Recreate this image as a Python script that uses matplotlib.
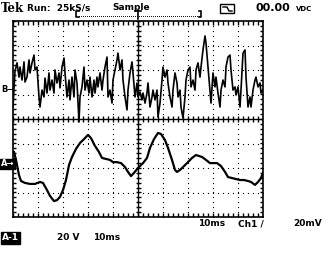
import matplotlib
matplotlib.use("Agg")
import matplotlib.pyplot as plt
from matplotlib.patches import Rectangle
import numpy as np

# screen: 10 divisions x 10 ms, 8 vertical divisions
ms_per_div = 10
n_xdiv, n_ydiv = 10, 8

# channel B (noisy), time in ms, level in divisions
b_time = [0.0, 0.8, 1.6, 2.4, 2.8, 3.6, 4.4, 4.8, 5.6, 6.4, 6.8, 7.6, 8.4, 8.8, 9.6,
          10.4, 10.8, 11.6, 12.4, 12.8, 13.6, 14.4, 14.8, 15.6, 16.4, 16.8, 17.6, 18.4,
          18.8, 19.6, 20.4, 20.8, 21.6, 22.4, 22.8, 23.6, 24.4, 24.8, 25.6, 26.4, 26.8,
          27.6, 28.4, 28.8, 29.6, 30.4, 30.8, 31.6, 32.4, 32.8, 33.6, 34.0, 34.8, 35.6,
          36.0, 36.8, 37.6, 38.0, 38.8, 39.6, 40.0, 40.8, 41.6, 42.0, 42.8, 43.6, 44.0,
          44.8, 45.6, 46.0, 46.8, 47.6, 48.0, 48.8, 49.6, 50.0, 50.8, 51.6, 52.0, 52.8,
          53.6, 54.0, 54.8, 55.6, 56.0, 56.8, 57.6, 58.0, 58.8, 59.6, 60.0, 60.8, 61.6,
          62.0, 62.8, 63.6, 64.0, 64.8, 65.6, 66.0, 66.8, 67.2, 68.0, 68.8, 69.2, 70.0,
          70.8, 71.2, 72.0, 72.8, 73.2, 74.0, 74.8, 75.2, 76.0, 76.8, 77.2, 78.0, 78.8,
          79.2, 80.0, 80.8, 81.2, 82.0, 82.8, 83.2, 84.0, 84.8, 85.2, 86.0, 86.8, 87.2,
          88.0, 88.8, 89.2, 90.0, 90.8, 91.2, 92.0, 92.8, 93.2, 94.0, 94.8, 95.2, 96.0,
          96.8, 97.2, 98.0, 98.8, 99.2, 100.0]
b_level = [0.49, 1.96, 2.29, 1.71, 2.12, 1.59, 2.33, 1.51, 1.71, 2.41, 1.88, 2.29, 2.61,
           2.00, 2.12, 0.90, 0.49, 1.18, 0.90, 1.67, 1.06, 1.88, 1.18, 1.59, 1.06, 2.00,
           1.47, 1.88, 1.27, 2.12, 2.49, 1.88, 0.90, 1.59, 0.78, 1.71, 0.90, 2.00, 1.47,
           -0.12, 0.90, 1.31, 2.12, 1.18, 1.59, 1.06, 1.71, 0.90, 1.59, 1.06, 1.71, 1.31,
           1.88, 1.18, 1.59, 2.12, 2.53, 0.90, 1.18, 0.65, 1.59, 2.00, 2.41, 2.69, 2.00,
           2.41, 1.59, 0.90, 0.37, 1.18, 1.88, 2.33, 1.88, 0.90, 1.47, 0.90, 1.10, 0.78,
           1.06, 0.65, 1.06, 1.47, 0.49, 0.90, 1.18, 0.78, 1.18, 0.08, 0.65, 1.59, 2.12,
           1.71, 2.00, 1.47, 0.90, 0.49, 1.18, 1.88, 1.47, 0.90, 1.18, 0.49, 0.04, 0.90,
           1.59, 2.00, 2.12, 1.31, 1.59, 1.18, 2.00, 2.29, 1.71, 2.12, 2.82, 3.39, 3.10,
           2.12, 1.18, 0.65, 1.88, 1.31, 1.71, 1.06, 0.49, 1.18, 1.59, 1.31, 2.12, 2.53,
           2.61, 2.00, 1.18, 1.31, 0.98, 1.31, 0.49, 1.18, 2.69, 2.82, 1.71, 0.49, 0.90,
           0.49, 1.18, 1.59, 1.71, 1.31, 1.47, 1.06, 1.18]

# channel A (smooth)
a_time = [0.4, 1.2, 2.4, 3.2, 4.8, 6.8, 8.8, 10.8, 12.0, 13.6, 14.8, 16.4, 17.6, 18.8,
          20.0, 21.2, 22.4, 23.6, 25.2, 26.8, 28.4, 30.0, 31.2, 32.8, 34.4, 35.6, 37.2,
          38.8, 40.0, 41.6, 43.2, 44.8, 46.0, 47.2, 48.4, 50.0, 52.0, 53.6, 54.8, 56.4,
          58.0, 59.2, 60.8, 62.0, 63.6, 64.8, 65.6, 66.8, 68.4, 70.0, 71.6, 73.2, 74.4,
          75.6, 77.2, 78.8, 80.4, 81.6, 83.2, 84.8, 86.0, 87.6, 89.2, 90.8, 92.4, 94.0,
          95.2, 96.8, 98.0, 99.2, 100.0]
a_level = [-1.35, -1.67, -2.29, -2.53, -2.61, -2.65, -2.65, -2.57, -2.61, -2.90, -3.14,
           -3.35, -3.31, -3.18, -2.90, -2.49, -1.88, -1.55, -1.22, -0.98, -0.82, -0.65,
           -0.78, -1.10, -1.35, -1.59, -1.63, -1.67, -1.76, -1.76, -1.80, -1.96, -2.16,
           -2.33, -2.20, -2.00, -1.80, -1.59, -1.18, -0.82, -0.57, -0.61, -0.86, -1.18,
           -1.67, -2.08, -2.16, -2.08, -1.92, -1.76, -1.59, -1.47, -1.51, -1.55, -1.67,
           -1.80, -1.80, -1.80, -1.92, -2.16, -2.37, -2.41, -2.45, -2.49, -2.49, -2.53,
           -2.57, -2.69, -2.57, -2.41, -2.20]

W, H = 333, 261
fig = plt.figure(figsize=(W / 100, H / 100), dpi=100)
fig.patch.set_facecolor("white")
ax = fig.add_axes([13 / W, 44 / H, 250 / W, 196 / H])
xmax = n_xdiv * ms_per_div
ax.set_xlim(0, xmax)
ax.set_ylim(-n_ydiv / 2, n_ydiv / 2)
ax.set_xticks([])
ax.set_yticks([])
for s in ax.spines.values():
    s.set_color("black")
    s.set_linewidth(1.2)

# dotted graticule
ys = np.arange(-4, 4.01, 0.2)
xs = np.arange(0, xmax + 0.1, 2)
for gx in range(10, 100, 10):
    if gx != 50:
        ax.plot([gx] * len(ys), ys, ls="none", marker="s", ms=0.8, color="black", mew=0)
for gy in range(-3, 4):
    if gy != 0:
        ax.plot(xs, [gy] * len(xs), ls="none", marker="s", ms=0.8, color="black", mew=0)

# center lines with minor ticks
ax.axvline(50, color="black", lw=1)
ax.axhline(0, color="black", lw=1)
ax.vlines(xs, -0.12, 0.12, color="black", lw=1)
ax.hlines(ys, 49.0, 51.0, color="black", lw=1)
# edge ticks (inward)
ax.vlines(xs, -4, -3.85, color="black", lw=1)
ax.vlines(xs, 3.85, 4, color="black", lw=1)
ax.hlines(ys, 0, 1.2, color="black", lw=1)
ax.hlines(ys, xmax - 1.2, xmax, color="black", lw=1)

# traces
ax.plot(b_time, b_level, color="black", lw=1.2)
ax.plot(a_time, a_level, color="black", lw=1.6)

font = dict(family="DejaVu Sans", weight="bold", color="black")


def px(x, y):
    return x / W, 1 - y / H


# ground markers
fig.text(*px(1, 90), "B\u2192", fontsize=6, va="center", ha="left", **font)
fig.text(*px(1, 164), "A\u2192", fontsize=6, va="center", ha="left",
         bbox=dict(boxstyle="square,pad=0.1", fc="black", ec="black"),
         family="DejaVu Sans", weight="bold", color="white")

# header
fig.text(*px(1, 8), "Tek", fontsize=8.5, va="center", ha="left", family="DejaVu Serif",
         weight="bold", color="black")
fig.text(*px(27, 8), "Run:  25kS/s", fontsize=6.5, va="center", ha="left", **font)
fig.text(*px(112, 8), "Sample", fontsize=6.5, va="center", ha="left", **font)
fig.text(*px(256, 8), "00.00", fontsize=8, va="center", ha="left", **font)
fig.text(*px(296, 9), "VDC", fontsize=5, va="center", ha="left", **font)
fig.patches.append(Rectangle(px(220, 13), 14 / W, 9 / H, transform=fig.transFigure,
                             fill=False, ec="black", lw=1))
fig.lines.append(plt.Line2D([223 / W, 227 / W, 229 / W, 232 / W],
                            [1 - 7 / H, 1 - 7 / H, 1 - 11 / H, 1 - 11 / H],
                            transform=fig.transFigure, color="black", lw=1))

# record window bracket
bl, br = 25.2, 75.2
ax.plot([bl + 1, bl, bl, bl + 1], [4.41, 4.41, 4.17, 4.17], color="black", lw=1.2, clip_on=False)
ax.plot([br - 1, br, br, br - 1], [4.41, 4.41, 4.17, 4.17], color="black", lw=1.2, clip_on=False)
dots = np.arange(bl + 1.2, br - 0.8, 0.8)
ax.plot(dots, [4.2] * len(dots), ls="none", marker="s", ms=0.6, mew=0, color="black", clip_on=False)
ax.plot([48.8, 51.2], [4.41, 4.41], color="black", lw=1.2, clip_on=False)
ax.plot([50, 50], [4.41, 4.1], color="black", lw=1.2, clip_on=False)

# footer
fig.text(*px(198, 224), "10ms", fontsize=6.5, va="center", ha="left", **font)
fig.text(*px(238, 224), "Ch1 /", fontsize=6.5, va="center", ha="left", **font)
fig.text(*px(293, 224), "20mV", fontsize=6.5, va="center", ha="left", **font)
fig.text(*px(2, 238), "A-1", fontsize=6.5, va="center", ha="left",
         bbox=dict(boxstyle="square,pad=0.15", fc="black", ec="black"),
         family="DejaVu Sans", weight="bold", color="white")
fig.text(*px(57, 238), "20 V", fontsize=6.5, va="center", ha="left", **font)
fig.text(*px(93, 238), "10ms", fontsize=6.5, va="center", ha="left", **font)

fig.savefig("out.png", dpi=100, facecolor="white")
